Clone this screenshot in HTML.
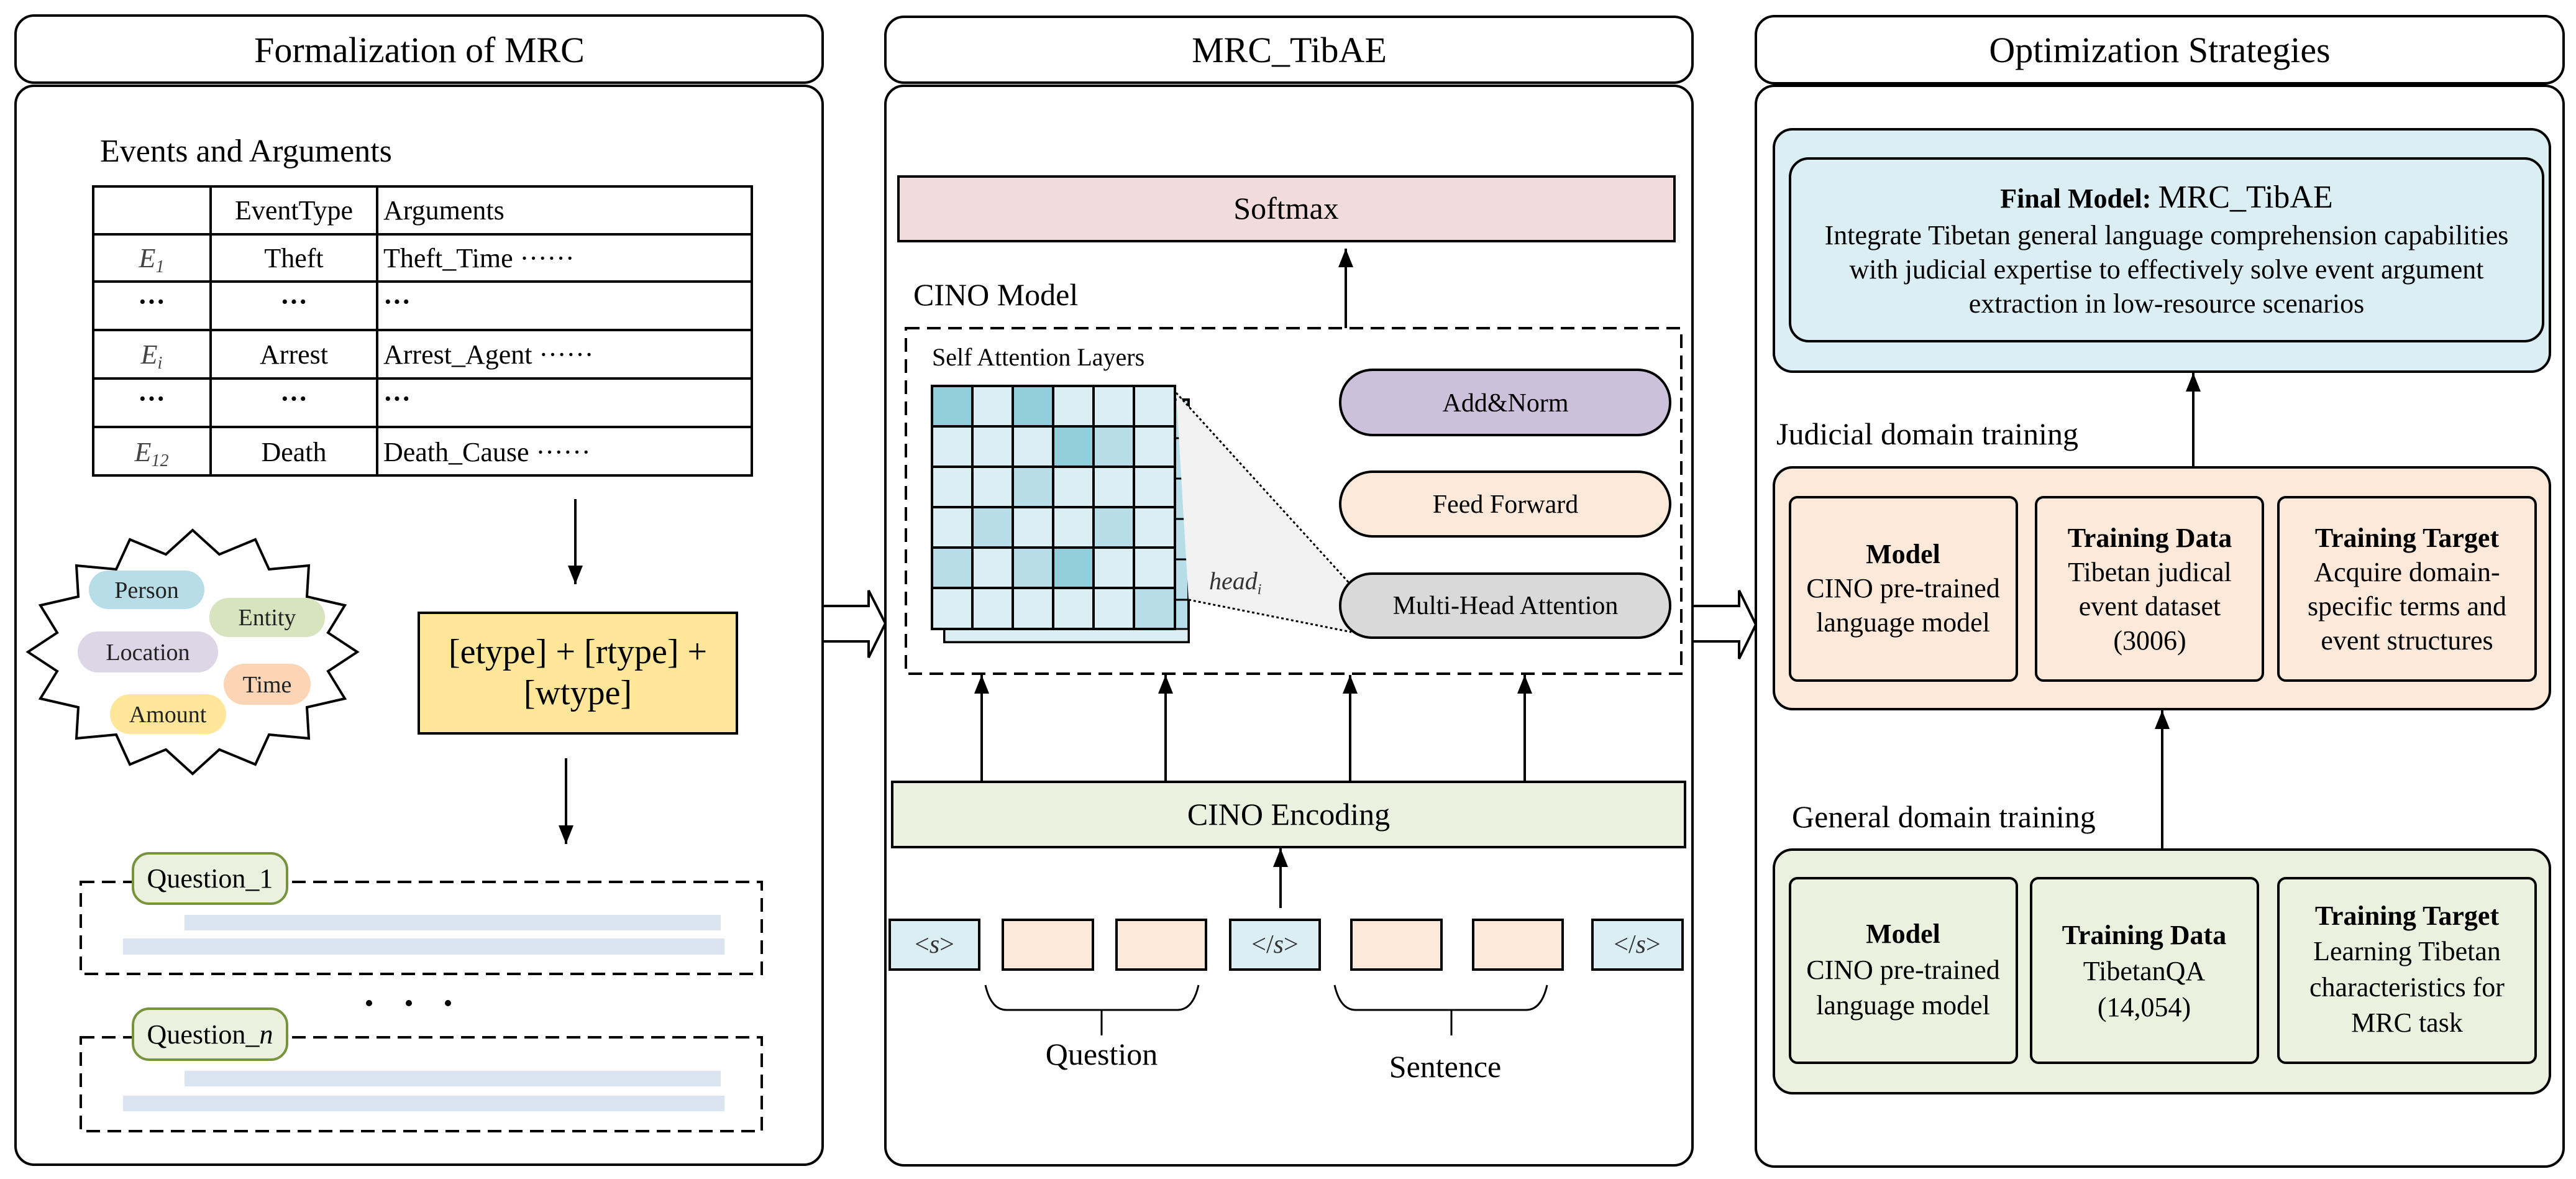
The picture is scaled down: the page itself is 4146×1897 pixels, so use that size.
<!DOCTYPE html>
<html><head><meta charset="utf-8"><style>
html,body{margin:0;padding:0;background:#fff;}
svg{display:block;font-family:"Liberation Serif",serif;}
</style></head><body>
<svg width="4146" height="1897" viewBox="0 0 4146 1897" xmlns="http://www.w3.org/2000/svg" font-family="Liberation Serif, serif">
<defs>
<marker id="ah" markerWidth="30" markerHeight="24" refX="10" refY="5" orient="auto" markerUnits="userSpaceOnUse" viewBox="0 0 10 10" preserveAspectRatio="none"><path d="M0,0 L10,5 L0,10 z" fill="#000"/></marker>
</defs>
<g fill="none" stroke="#000" stroke-width="4">
<rect x="25" y="25" width="1299" height="108" rx="30"/>
<rect x="25" y="138" width="1299" height="1736" rx="30"/>
<rect x="1425" y="27" width="1299" height="106" rx="30"/>
<rect x="1425" y="138" width="1299" height="1737" rx="30"/>
<rect x="2826" y="26" width="1300" height="108" rx="30"/>
<rect x="2826" y="138" width="1300" height="1739" rx="30"/>
</g>
<g font-size="58" text-anchor="middle" fill="#000">
<text x="675" y="100">Formalization of MRC</text>
<text x="2075" y="100">MRC_TibAE</text>
<text x="3476" y="100">Optimization Strategies</text>
</g>
<path d="M1326,975 L1398,975 L1398,950 L1425,1003 L1398,1058 L1398,1032 L1326,1032" fill="#fff" stroke="#000" stroke-width="4"/>
<path d="M2726,975 L2799,975 L2799,950 L2826,1005 L2799,1060 L2799,1032 L2726,1032" fill="#fff" stroke="#000" stroke-width="4"/>

<text x="161" y="260" font-size="52">Events and Arguments</text>
<g stroke="#000" stroke-width="4" fill="none">
<rect x="150" y="300" width="1060" height="465"/>
<line x1="339" y1="300" x2="339" y2="765"/><line x1="607" y1="300" x2="607" y2="765"/>
<line x1="150" y1="377" x2="1210" y2="377"/><line x1="150" y1="453" x2="1210" y2="453"/>
<line x1="150" y1="531" x2="1210" y2="531"/><line x1="150" y1="609" x2="1210" y2="609"/>
<line x1="150" y1="687" x2="1210" y2="687"/>
</g>
<g font-size="44" fill="#000">
<text x="473" y="353" text-anchor="middle">EventType</text><text x="617" y="353">Arguments</text>
<text x="244" y="430" text-anchor="middle" font-style="italic" fill="#444">E<tspan font-size="28" dy="8">1</tspan></text>
<text x="473" y="430" text-anchor="middle">Theft</text><text x="617" y="430">Theft_Time ······</text>
<text x="244" y="500" text-anchor="middle" font-weight="bold">···</text><text x="473" y="500" text-anchor="middle" font-weight="bold">···</text><text x="617" y="500" font-weight="bold">···</text>
<text x="244" y="585" text-anchor="middle" font-style="italic" fill="#444">E<tspan font-size="28" dy="8">i</tspan></text>
<text x="473" y="585" text-anchor="middle">Arrest</text><text x="617" y="585">Arrest_Agent ······</text>
<text x="244" y="656" text-anchor="middle" font-weight="bold">···</text><text x="473" y="656" text-anchor="middle" font-weight="bold">···</text><text x="617" y="656" font-weight="bold">···</text>
<text x="244" y="742" text-anchor="middle" font-style="italic" fill="#444">E<tspan font-size="28" dy="8">12</tspan></text>
<text x="473" y="742" text-anchor="middle">Death</text><text x="617" y="742">Death_Cause ······</text>
</g>
<line x1="926" y1="803" x2="926" y2="940" stroke="#000" stroke-width="4" marker-end="url(#ah)"/>
<polygon points="310,853 353,892 411,868 433,916 497,910 494,960 555,974 528,1018 575,1049 528,1080 555,1124 494,1138 497,1188 433,1182 411,1230 353,1206 310,1245 267,1206 209,1230 187,1182 123,1188 126,1138 65,1124 92,1080 45,1049 92,1018 65,974 126,960 123,910 187,916 209,868 267,892" fill="#fff" stroke="#000" stroke-width="4"/>
<g font-size="38" text-anchor="middle" fill="#222">
<rect x="143" y="918" width="186" height="62" rx="31" fill="#b7dde8"/><text x="236" y="962">Person</text>
<rect x="337" y="962" width="186" height="63" rx="31" fill="#d7e4bd"/><text x="430" y="1006">Entity</text>
<rect x="125" y="1016" width="226" height="66" rx="33" fill="#dcd6e6"/><text x="238" y="1062">Location</text>
<rect x="360" y="1068" width="140" height="66" rx="33" fill="#fbd5b5"/><text x="430" y="1114">Time</text>
<rect x="177" y="1117" width="187" height="64" rx="32" fill="#ffe699"/><text x="270" y="1162">Amount</text>
</g>
<rect x="674" y="986" width="512" height="194" fill="#ffe699" stroke="#000" stroke-width="4"/>
<g font-size="56" text-anchor="middle"><text x="930" y="1067">[etype] + [rtype] +</text><text x="930" y="1133">[wtype]</text></g>
<line x1="911" y1="1220" x2="911" y2="1358" stroke="#000" stroke-width="4" marker-end="url(#ah)"/>
<g stroke="#000" stroke-width="4" stroke-dasharray="22,12" fill="none">
<rect x="130" y="1419" width="1096" height="148"/>
<rect x="130" y="1669" width="1096" height="151"/>
</g>
<rect x="297" y="1472" width="863" height="25" fill="#dbe5f1"/><rect x="198" y="1510" width="968" height="26" fill="#dbe5f1"/>
<rect x="297" y="1723" width="863" height="25" fill="#dbe5f1"/><rect x="198" y="1763" width="968" height="25" fill="#dbe5f1"/>
<rect x="214" y="1373" width="248" height="81" rx="26" fill="#ebf1de" stroke="#77933c" stroke-width="4"/>
<rect x="214" y="1623" width="248" height="82" rx="26" fill="#ebf1de" stroke="#77933c" stroke-width="4"/>
<g font-size="44" text-anchor="middle"><text x="338" y="1428">Question_1</text><text x="338" y="1679">Question_<tspan font-style="italic">n</tspan></text></g>
<g fill="#000"><circle cx="594" cy="1614" r="5"/><circle cx="658" cy="1614" r="5"/><circle cx="721" cy="1614" r="5"/></g>

<rect x="1446" y="284" width="1249" height="104" fill="#f2dcdb" stroke="#000" stroke-width="4"/>
<text x="2070" y="352" font-size="50" text-anchor="middle">Softmax</text>
<line x1="2166" y1="528" x2="2166" y2="400" stroke="#000" stroke-width="4" marker-end="url(#ah)"/>
<text x="1470" y="491" font-size="50">CINO Model</text>
<rect x="1458" y="528" width="1248" height="556" fill="none" stroke="#000" stroke-width="4" stroke-dasharray="22,12"/>
<text x="1500" y="588" font-size="40">Self Attention Layers</text>
<rect x="1520" y="643" width="393" height="390" fill="#b7dde8" stroke="#000" stroke-width="4"/>
<g stroke="#000" stroke-width="3">
<line x1="1585" y1="1012" x2="1585" y2="1033"/><line x1="1650" y1="1012" x2="1650" y2="1033"/><line x1="1715" y1="1012" x2="1715" y2="1033"/><line x1="1780" y1="1012" x2="1780" y2="1033"/><line x1="1845" y1="1012" x2="1845" y2="1033"/>
<line x1="1891" y1="705" x2="1913" y2="705"/><line x1="1891" y1="770" x2="1913" y2="770"/><line x1="1891" y1="835" x2="1913" y2="835"/><line x1="1891" y1="900" x2="1913" y2="900"/><line x1="1891" y1="965" x2="1913" y2="965"/>
</g>
<rect x="1520" y="1012" width="393" height="21" fill="#daeef3" stroke="#000" stroke-width="3"/>
<polygon points="1893,632 2170,942 2170,1015 1913,965" fill="#f2f2f2"/>
<line x1="1893" y1="632" x2="2175" y2="942" stroke="#000" stroke-width="3" stroke-dasharray="4,4"/>
<line x1="1913" y1="965" x2="2175" y2="1017" stroke="#000" stroke-width="3" stroke-dasharray="4,4"/>
<g stroke="#000" stroke-width="4">
<rect x="1500" y="621" width="65" height="65" fill="#92cddc"/><rect x="1565" y="621" width="65" height="65" fill="#daeef3"/><rect x="1630" y="621" width="65" height="65" fill="#92cddc"/><rect x="1695" y="621" width="65" height="65" fill="#daeef3"/><rect x="1760" y="621" width="65" height="65" fill="#daeef3"/><rect x="1825" y="621" width="66" height="65" fill="#daeef3"/>
<rect x="1500" y="686" width="65" height="65" fill="#daeef3"/><rect x="1565" y="686" width="65" height="65" fill="#daeef3"/><rect x="1630" y="686" width="65" height="65" fill="#daeef3"/><rect x="1695" y="686" width="65" height="65" fill="#92cddc"/><rect x="1760" y="686" width="65" height="65" fill="#b7dde8"/><rect x="1825" y="686" width="66" height="65" fill="#daeef3"/>
<rect x="1500" y="751" width="65" height="65" fill="#daeef3"/><rect x="1565" y="751" width="65" height="65" fill="#daeef3"/><rect x="1630" y="751" width="65" height="65" fill="#b7dde8"/><rect x="1695" y="751" width="65" height="65" fill="#daeef3"/><rect x="1760" y="751" width="65" height="65" fill="#daeef3"/><rect x="1825" y="751" width="66" height="65" fill="#daeef3"/>
<rect x="1500" y="816" width="65" height="65" fill="#daeef3"/><rect x="1565" y="816" width="65" height="65" fill="#b7dde8"/><rect x="1630" y="816" width="65" height="65" fill="#daeef3"/><rect x="1695" y="816" width="65" height="65" fill="#daeef3"/><rect x="1760" y="816" width="65" height="65" fill="#b7dde8"/><rect x="1825" y="816" width="66" height="65" fill="#daeef3"/>
<rect x="1500" y="881" width="65" height="65" fill="#b7dde8"/><rect x="1565" y="881" width="65" height="65" fill="#daeef3"/><rect x="1630" y="881" width="65" height="65" fill="#b7dde8"/><rect x="1695" y="881" width="65" height="65" fill="#92cddc"/><rect x="1760" y="881" width="65" height="65" fill="#daeef3"/><rect x="1825" y="881" width="66" height="65" fill="#daeef3"/>
<rect x="1500" y="946" width="65" height="66" fill="#daeef3"/><rect x="1565" y="946" width="65" height="66" fill="#daeef3"/><rect x="1630" y="946" width="65" height="66" fill="#daeef3"/><rect x="1695" y="946" width="65" height="66" fill="#daeef3"/><rect x="1760" y="946" width="65" height="66" fill="#daeef3"/><rect x="1825" y="946" width="66" height="66" fill="#b7dde8"/>
</g>
<text x="1946" y="948" font-size="40" font-style="italic" fill="#333">head<tspan font-size="24" dy="8">i</tspan></text>
<g stroke="#000" stroke-width="4">
<rect x="2157" y="595" width="531" height="105" rx="52" fill="#ccc0da"/>
<rect x="2157" y="759" width="531" height="104" rx="52" fill="#fde9d9"/>
<rect x="2157" y="923" width="531" height="103" rx="51" fill="#d9d9d9"/>
</g>
<g font-size="42" text-anchor="middle"><text x="2423" y="662">Add&amp;Norm</text><text x="2423" y="825">Feed Forward</text><text x="2423" y="988">Multi-Head Attention</text></g>
<g stroke="#000" stroke-width="4" marker-end="url(#ah)">
<line x1="1580" y1="1258" x2="1580" y2="1086"/><line x1="1876" y1="1258" x2="1876" y2="1086"/><line x1="2173" y1="1258" x2="2173" y2="1086"/><line x1="2454" y1="1258" x2="2454" y2="1086"/>
<line x1="2061" y1="1461" x2="2061" y2="1365"/>
</g>
<rect x="1436" y="1258" width="1276" height="105" fill="#ebf1de" stroke="#000" stroke-width="4"/>
<text x="2074" y="1327" font-size="50" text-anchor="middle">CINO Encoding</text>
<g stroke="#000" stroke-width="4">
<rect x="1432" y="1480" width="144" height="80" fill="#daeef3"/>
<rect x="1614" y="1480" width="145" height="80" fill="#fde9d9"/>
<rect x="1797" y="1480" width="144" height="80" fill="#fde9d9"/>
<rect x="1980" y="1480" width="144" height="80" fill="#daeef3"/>
<rect x="2175" y="1480" width="145" height="80" fill="#fde9d9"/>
<rect x="2371" y="1480" width="144" height="80" fill="#fde9d9"/>
<rect x="2563" y="1480" width="145" height="80" fill="#daeef3"/>
</g>
<g font-size="42" text-anchor="middle" fill="#333"><text x="1504" y="1533">&lt;<tspan font-style="italic">s</tspan>&gt;</text><text x="2052" y="1533">&lt;/<tspan font-style="italic">s</tspan>&gt;</text><text x="2635" y="1533">&lt;/<tspan font-style="italic">s</tspan>&gt;</text></g>
<g fill="none" stroke="#000" stroke-width="3">
<path d="M1586,1585 Q1595,1625 1620,1625 L1895,1625 Q1920,1625 1929,1585"/><line x1="1773" y1="1625" x2="1773" y2="1666"/>
<path d="M2148,1585 Q2157,1625 2182,1625 L2456,1625 Q2481,1625 2490,1585"/><line x1="2336" y1="1625" x2="2336" y2="1666"/>
</g>
<g font-size="50" text-anchor="middle"><text x="1773" y="1713">Question</text><text x="2326" y="1733">Sentence</text></g>

<rect x="2855" y="208" width="1249" height="390" rx="30" fill="#daeef3" stroke="#000" stroke-width="4"/>
<rect x="2881" y="255" width="1212" height="294" rx="30" fill="#daeef3" stroke="#000" stroke-width="4"/>
<g font-size="44" text-anchor="middle">
<text x="3487" y="334"><tspan font-weight="bold">Final Model:</tspan> <tspan font-size="52">MRC_TibAE</tspan></text>
<text x="3487" y="393">Integrate Tibetan general language comprehension capabilities</text>
<text x="3487" y="448">with judicial expertise to effectively solve event argument</text>
<text x="3487" y="503">extraction in low-resource scenarios</text>
</g>
<line x1="3530" y1="752" x2="3530" y2="600" stroke="#000" stroke-width="4" marker-end="url(#ah)"/>
<text x="2859" y="715" font-size="50">Judicial domain training</text>
<rect x="2855" y="752" width="1249" height="389" rx="30" fill="#fde9d9" stroke="#000" stroke-width="4"/>
<g stroke="#000" stroke-width="4" fill="#fde9d9">
<rect x="2881" y="800" width="365" height="295" rx="12"/><rect x="3277" y="800" width="365" height="295" rx="12"/><rect x="3667" y="800" width="414" height="295" rx="12"/>
</g>
<g font-size="44" text-anchor="middle">
<text x="3063" y="906" font-weight="bold">Model</text><text x="3063" y="961">CINO pre-trained</text><text x="3063" y="1016">language model</text>
<text x="3460" y="880" font-weight="bold">Training Data</text><text x="3460" y="935">Tibetan judical</text><text x="3460" y="990">event dataset</text><text x="3460" y="1045">(3006)</text>
<text x="3874" y="880" font-weight="bold">Training Target</text><text x="3874" y="935">Acquire domain-</text><text x="3874" y="990">specific terms and</text><text x="3874" y="1045">event structures</text>
</g>
<line x1="3480" y1="1367" x2="3480" y2="1143" stroke="#000" stroke-width="4" marker-end="url(#ah)"/>
<text x="2884" y="1331" font-size="50">General domain training</text>
<rect x="2855" y="1367" width="1249" height="392" rx="30" fill="#ebf1de" stroke="#000" stroke-width="4"/>
<g stroke="#000" stroke-width="4" fill="#ebf1de">
<rect x="2881" y="1413" width="365" height="297" rx="12"/><rect x="3269" y="1413" width="365" height="297" rx="12"/><rect x="3667" y="1413" width="414" height="297" rx="12"/>
</g>
<g font-size="44" text-anchor="middle">
<text x="3063" y="1517" font-weight="bold">Model</text><text x="3063" y="1575">CINO pre-trained</text><text x="3063" y="1632">language model</text>
<text x="3451" y="1519" font-weight="bold">Training Data</text><text x="3451" y="1577">TibetanQA</text><text x="3451" y="1635">(14,054)</text>
<text x="3874" y="1488" font-weight="bold">Training Target</text><text x="3874" y="1545">Learning  Tibetan</text><text x="3874" y="1603">characteristics for</text><text x="3874" y="1660">MRC task</text>
</g>
</svg>
</body></html>
